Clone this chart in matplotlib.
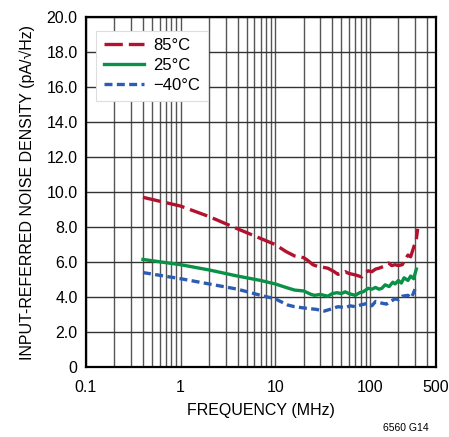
import matplotlib.pyplot as plt
from matplotlib.ticker import FixedLocator, NullFormatter

plt.rcParams['font.family'] = ['Liberation Sans Narrow', 'Liberation Sans', 'DejaVu Sans']

# 85°C
freq_85 = [0.4, 1, 2, 4, 7, 10, 13, 16, 20, 22, 25, 28, 32, 36, 42, 46, 50, 55, 60, 66, 72, 82,
           90, 96, 105, 115, 125, 140, 158, 170, 185, 200, 220, 240, 253, 270, 285, 297, 310, 320]
noise_85 = [9.7, 9.2, 8.6, 7.9, 7.35, 7.0, 6.6, 6.35, 6.25, 6.1, 5.85, 5.75, 5.7, 5.65, 5.45, 5.3, 5.35,
            5.45, 5.35, 5.3, 5.25, 5.15, 5.4, 5.5, 5.45, 5.6, 5.65, 5.75, 5.95, 5.8, 5.85, 5.8, 5.85,
            6.2, 6.4, 6.3, 6.7, 7.0, 7.3, 7.9]

# 25°C
freq_25 = [0.4, 1, 2, 4, 7, 10, 13, 16, 20, 24, 26, 30, 36, 40, 45, 50, 55, 60, 70, 78, 85, 96,
           105, 115, 125, 134, 145, 160, 175, 185, 200, 215, 230, 253, 270, 290, 310]
noise_25 = [6.15, 5.85, 5.55, 5.2, 4.95, 4.75, 4.55, 4.4, 4.35, 4.15, 4.1, 4.15, 4.05, 4.2, 4.25, 4.2,
            4.3, 4.2, 4.1, 4.25, 4.3, 4.5, 4.45, 4.55, 4.45, 4.5, 4.7, 4.6, 4.85, 4.75, 4.95, 4.8,
            5.1, 4.95, 5.2, 5.05, 5.6]

# -40°C
freq_m40 = [0.4, 1, 2, 4, 7, 10, 13.5, 16, 22, 27, 33, 38, 46, 55, 62, 70, 80, 96, 105, 115, 134,
            150, 165, 185, 200, 220, 253, 270, 285, 300]
noise_m40 = [5.4, 5.05, 4.75, 4.45, 4.1, 3.9, 3.55, 3.45, 3.35, 3.3, 3.2, 3.3, 3.45, 3.4, 3.5, 3.45,
             3.55, 3.65, 3.5, 3.75, 3.65, 3.6, 3.75, 3.9, 3.85, 4.05, 4.1, 3.95, 4.15, 4.45]

xticks = [0.1, 1, 10, 100, 500]
xtick_labels = ['0.1', '1', '10', '100', '500']
yticks = [0, 2, 4, 6, 8, 10, 12, 14, 16, 18, 20]
ytick_labels = ['0'] + ['{:.1f}'.format(v) for v in yticks[1:]]

fig = plt.figure(figsize=(4.49, 4.37), dpi=100)
ax = fig.add_axes([0.1915, 0.160, 0.7795, 0.801])

ax.plot(freq_85, noise_85, color='#b3122f', lw=2.4, dashes=(5.5, 1.8), label='85°C')
ax.plot(freq_25, noise_25, color='#0a9148', lw=2.4, label='25°C')
ax.plot(freq_m40, noise_m40, color='#2d5db3', lw=2.4, dashes=(2.4, 1.3), label='\u221240°C')

ax.set_xscale('log')
ax.set_xlim(0.1, 500)
ax.set_ylim(0, 20)

minors = []
for dec in [0.1, 1, 10, 100]:
    for m in range(2, 10):
        if dec * m < 500:
            minors.append(dec * m)
ax.xaxis.set_major_locator(FixedLocator(xticks))
ax.set_xticklabels(xtick_labels)
ax.xaxis.set_minor_locator(FixedLocator(minors))
ax.xaxis.set_minor_formatter(NullFormatter())
ax.set_yticks(yticks)
ax.set_yticklabels(ytick_labels)

ax.grid(True, which='both', axis='x', color='#555555', lw=1.0)
ax.grid(True, which='major', axis='y', color='#333333', lw=1.0)
ax.tick_params(which='both', length=0, labelsize=11.5)
ax.tick_params(axis='x', pad=9)
ax.tick_params(axis='y', pad=6)
for s in ax.spines.values():
    s.set_linewidth(1.6)
    s.set_color('black')

ax.set_xlabel('FREQUENCY (MHz)', fontsize=11.5, labelpad=6)
ax.set_ylabel('INPUT-REFERRED NOISE DENSITY (pA/\u221aHz)', fontsize=11.5, labelpad=8)

leg = ax.legend(loc='upper left', bbox_to_anchor=(0.005, 0.985), fontsize=12, handlelength=2.4,
                frameon=True, fancybox=False, framealpha=1, edgecolor='#dddddd',
                borderpad=0.45, labelspacing=0.3, handletextpad=0.6)
leg.get_frame().set_linewidth(0.8)

fig.text(0.955, 0.01, '6560 G14', fontsize=7.5, ha='right', va='bottom')

plt.savefig('out.png', dpi=100)
